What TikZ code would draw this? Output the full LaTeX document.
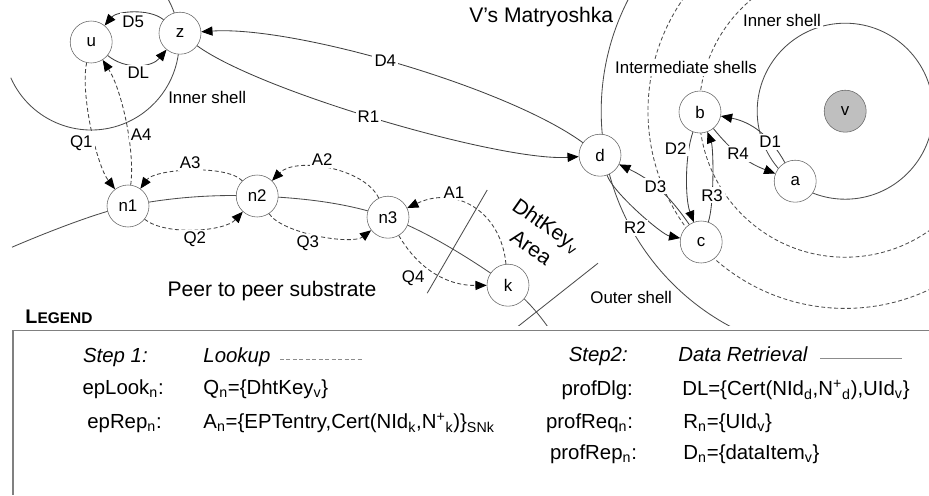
\documentclass[tikz,border=0pt]{standalone}
\usepackage{fontspec}
\setmainfont{Liberation Sans}
\usetikzlibrary{arrows.meta}
\tikzset{>/.tip={Triangle[length=8pt,width=6.5pt,color=black]},
  peer/.style={circle,draw=black!60,fill=white,minimum size=1.05cm,inner sep=0pt,font=\fontsize{12}{14}\selectfont},
  lbl/.style={fill=white,inner sep=1.5pt,font=\fontsize{12}{14}\selectfont},
  title/.style={fill=white,inner sep=1pt,font=\fontsize{15}{19}\selectfont},
  shell/.style={draw=black!70,line width=0.6pt},
  lookup/.style={dash pattern=on 2.8pt off 1.8pt},
  every edge/.style={draw=black!75,line width=0.6pt},
  legend/.style={inner sep=0pt,text height=0.72em,text depth=0.22em,font=\fontsize{14.5}{17}\selectfont}}

\begin{document}
\begin{tikzpicture}
\useasboundingbox (0,0) rectangle (23.225,-12.375);

\begin{scope}
\clip (0,0) rectangle (23.225,-8.13);
\draw[shell] (21.13,-2.78) circle[radius=2.2];
\draw[shell,lookup] (21.13,-2.78) circle[radius=3.65];
\draw[shell,lookup] (21.13,-2.78) circle[radius=4.93];
\draw[shell] (21.13,-2.78) circle[radius=6.1];
\draw[shell] (2.28,-1.05) ++(204:2.2) arc[start angle=204,end angle=395,radius=2.2];
\draw[shell] plot[smooth,tension=0.6] coordinates {(0.3,-6.18) (3.2,-5.15) (6.43,-4.9) (9.7,-5.43) (12.7,-7.13) (13.83,-8.38)};
\draw[shell] (12.18,-4.75) -- (10.68,-7.33);
\draw[shell] (14.95,-6.58) -- (12.9,-8.2);
\end{scope}

\node[title] (matr) at (13.53,-0.43) {V's Matryoshka};
\node[lbl] (vinner) at (19.55,-0.5) {Inner shell};
\node[lbl] (vinter) at (17.15,-1.68) {Intermediate shells};
\node[lbl] (vouter) at (15.78,-7.43) {Outer shell};
\node[lbl] (uinner) at (5.18,-2.43) {Inner shell};
\node[title,fill=none] (p2p) at (6.8,-7.28) {Peer to peer substrate};
\node[title,fill=none,rotate=-35,align=center] (area) at (13.48,-5.9) {DhtKey\textsubscript{v}\\Area};

\node[peer] (u) at (2.28,-1.05) {u};
\node[peer] (z) at (4.5,-0.83) {z};
\node[peer] (n1) at (3.2,-5.15) {n1};
\node[peer] (n2) at (6.43,-4.9) {n2};
\node[peer] (n3) at (9.7,-5.43) {n3};
\node[peer] (k) at (12.7,-7.13) {k};
\node[peer] (d) at (15,-3.88) {d};
\node[peer] (b) at (17.5,-2.8) {b};
\node[peer] (a) at (19.88,-4.53) {a};
\node[peer] (c) at (17.53,-6.05) {c};
\node[peer,fill=black!25] (v) at (21.13,-2.78) {v};

\path[->,bend right=45,looseness=0.8] (z) edge [below=1pt] node[lbl] {D5} (u);
\path[->,bend right=45] (u) edge [below] node[lbl] {DL} (z);
\path[->,lookup,bend right=25,looseness=0.6] (u) edge [left=14pt,pos=0.6] node[lbl] {Q1} (n1);
\path[->,lookup,bend right=20,looseness=0.7] (n1) edge [right,pos=0.4] node[lbl] {A4} (u);
\path[->,lookup,bend right=50,looseness=0.6] (n2) edge [above] node[lbl] {A3} (n1);
\path[->,lookup,bend right=55,looseness=0.8] (n3) edge [above,pos=0.55] node[lbl] {A2} (n2);
\path[->,lookup,bend right=43,looseness=0.7] (n1) edge [below=11pt] node[lbl] {Q2} (n2);
\path[->,lookup,bend right=47,looseness=0.6] (n2) edge [below=3pt,pos=0.42] node[lbl] {Q3} (n3);
\path[->,lookup,bend right=30] (n3) edge [below left,pos=0.4] node[lbl] {Q4} (k);
\path[->,lookup,bend right=55,looseness=1.2] (k) edge [above,pos=0.66] node[lbl] {A1} (n3);
\path[->,bend right=20,looseness=0.6] (d) edge [pos=0.53] node[lbl] {D4} (z);
\path[->,bend right=20,looseness=0.5] (z) edge [pos=0.47] node[lbl] {R1} (d);
\path[->,bend right=25] (a) edge [pos=0.3] node[lbl] {D1} (b);
\path[->,bend right=15] (b) edge [pos=0.45] node[lbl] {R4} (a);
\path[->,bend right=20,looseness=0.7] (b) edge [left,pos=0.2] node[lbl] {D2} (c);
\path[->,bend right=20,looseness=0.5] (c) edge [pos=0.33] node[lbl] {R3} (b);
\path[->,bend right=15] (c) edge [pos=0.55] node[lbl] {D3} (d);
\path[->,bend right=30,looseness=0.5] (d) edge [below left,pos=0.6] node[lbl] {R2} (c);

\draw[black!50,line width=1pt] (23.225,-8.26) -| (0.33,-12.375);
\node[anchor=west,inner sep=0pt] (leg) at (0.63,-7.93) {\bfseries{\fontsize{14}{16}\selectfont L}{\fontsize{11}{13}\selectfont EGEND}};
\node[legend,anchor=east] (st1) at (3.7,-8.98) {\itshape Step 1:};
\node[legend,anchor=west] (lk) at (5.08,-8.98) {\itshape Lookup};
\draw[black!45,lookup,line width=0.6pt] (7.0,-8.98) -- (9.05,-8.98);
\node[legend,anchor=east] (eplook) at (4.1,-9.78) {epLook\textsubscript{n}:};
\node[legend,anchor=west] (qn) at (5.08,-9.78) {Q\textsubscript{n}=\{DhtKey\textsubscript{v}\}};
\node[legend,anchor=east] (eprep) at (4.05,-10.63) {epRep\textsubscript{n}:};
\node[legend,anchor=west] (an) at (5.08,-10.63) {A\textsubscript{n}=\{EPTentry,Cert(NId\textsubscript{k},N\textsuperscript{+}\textsubscript{k})\}\textsubscript{SNk}};
\node[legend,anchor=east] (st2) at (15.7,-8.96) {\itshape Step2:};
\node[legend,anchor=west] (dr) at (16.95,-8.96) {\itshape Data Retrieval};
\draw[black!45,line width=0.6pt] (20.5,-8.96) -- (22.55,-8.96);
\node[legend,anchor=east] (pdlg) at (15.83,-9.81) {profDlg:};
\node[legend,anchor=west] (dl) at (17.05,-9.81) {DL=\{Cert(NId\textsubscript{d},N\textsuperscript{+}\textsubscript{d}),UId\textsubscript{v}\}};
\node[legend,anchor=east] (preq) at (15.83,-10.63) {profReq\textsubscript{n}:};
\node[legend,anchor=west] (rn) at (17.08,-10.63) {R\textsubscript{n}=\{UId\textsubscript{v}\}};
\node[legend,anchor=east] (prep) at (15.93,-11.41) {profRep\textsubscript{n}:};
\node[legend,anchor=west] (dn) at (17.08,-11.41) {D\textsubscript{n}=\{dataItem\textsubscript{v}\}};
\end{tikzpicture}
\end{document}
